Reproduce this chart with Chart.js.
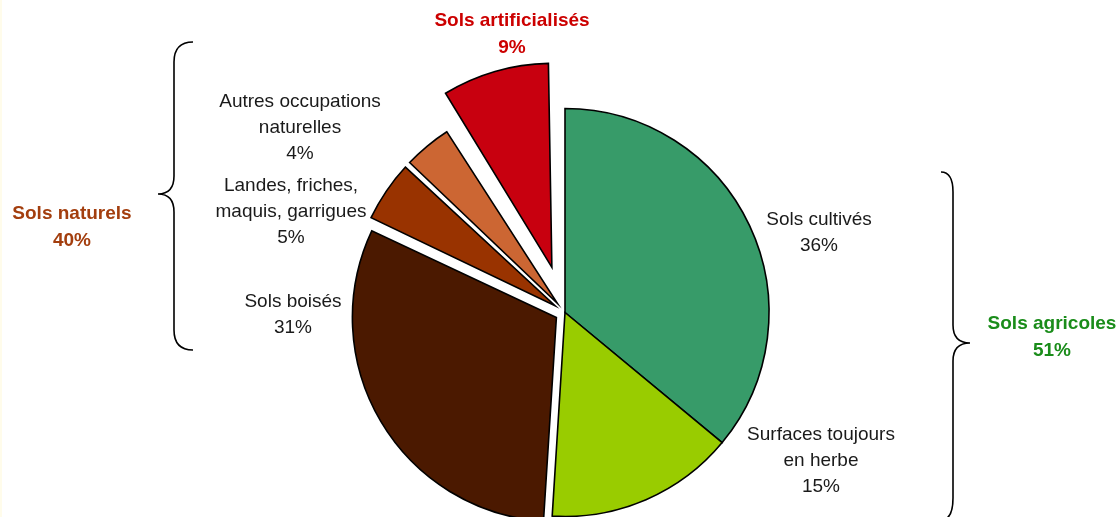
<!DOCTYPE html>
<html>
<head>
<meta charset="utf-8">
<script src="https://cdn.jsdelivr.net/npm/chart.js@4/dist/chart.umd.min.js"></script>
<style>
  html, body { margin: 0; padding: 0; background: #ffffff; }
  canvas { display: block; }
</style>
</head>
<body>
<canvas id="c" width="1120" height="517"></canvas>
<script>
// ---- Data ----
const categories = [
  "Sols cultivés",
  "Surfaces toujours en herbe",
  "Sols boisés",
  "Landes, friches, maquis, garrigues",
  "Autres occupations naturelles",
  "Sols artificialisés"
];
const shares = [36, 15, 31, 5, 4, 9];
const sliceLabelLines = [
  ["Sols cultivés", "36%"],
  ["Surfaces toujours", "en herbe", "15%"],
  ["Sols boisés", "31%"],
  ["Landes, friches,", "maquis, garrigues", "5%"],
  ["Autres occupations", "naturelles", "4%"],
  []
];
const groupNames = ["Sols artificialisés", "Sols naturels", "Sols agricoles"];
const groupShares = ["9%", "40%", "51%"];

// ---- Styles / layout (not data) ----
const sliceColors = ["#379B69", "#99CC00", "#4B1900", "#993300", "#CC6633", "#C8000F"];
const explodePx = [0, 0, 10, 12, 12, 47];
const groupColors = ["#CC0000", "#A33E0E", "#1A8C1A"];
const R = 204;
const sliceLabelPos = [[819, 220], [821, 435], [293, 302], [291, 186], [300, 102], [0, 0]];
const groupLabelPos = [[512, 21], [72, 214], [1052, 324]];
const lineGap = 26;

const fixRadius = {
  id: 'fixRadius',
  beforeDatasetsDraw(chart) {
    const meta = chart.getDatasetMeta(0);
    meta.data.forEach((arc, i) => {
      const circ = arc.endAngle - arc.startAngle;
      const fix = 1 - Math.sin(Math.min(Math.PI, circ));
      arc.outerRadius = R - explodePx[i] * fix;
    });
  }
};

const annotations = {
  id: 'annotations',
  beforeDraw(chart) {
    const ctx = chart.ctx;
    ctx.save();
    ctx.fillStyle = '#ffffff';
    ctx.fillRect(0, 0, chart.width, chart.height);
    ctx.fillStyle = '#FFFCEB';
    ctx.fillRect(0, 0, 2, chart.height);
    ctx.restore();
  },
  afterDraw(chart) {
    const ctx = chart.ctx;
    ctx.save();
    ctx.textAlign = 'center';
    ctx.textBaseline = 'middle';
    ctx.font = '19px "Liberation Sans", Arial, sans-serif';
    ctx.fillStyle = '#1a1a1a';
    sliceLabelLines.forEach((lines, i) => {
      const [x, y] = sliceLabelPos[i];
      lines.forEach((t, k) => ctx.fillText(t, x, y + k * lineGap));
    });
    ctx.font = 'bold 19px "Liberation Sans", Arial, sans-serif';
    groupNames.forEach((name, i) => {
      const [x, y] = groupLabelPos[i];
      ctx.fillStyle = groupColors[i];
      ctx.fillText(name, x, y);
      ctx.fillText(groupShares[i], x, y + lineGap + 1);
    });
    // braces
    ctx.strokeStyle = '#000';
    ctx.lineWidth = 1.6;
    ctx.beginPath();
    ctx.moveTo(193, 42);
    ctx.quadraticCurveTo(174, 42, 174, 62);
    ctx.lineTo(174, 176);
    ctx.quadraticCurveTo(174, 194, 158, 194);
    ctx.quadraticCurveTo(174, 194, 174, 212);
    ctx.lineTo(174, 330);
    ctx.quadraticCurveTo(174, 350, 193, 350);
    ctx.stroke();
    ctx.beginPath();
    ctx.moveTo(941, 172);
    ctx.quadraticCurveTo(953, 172, 953, 192);
    ctx.lineTo(953, 325);
    ctx.quadraticCurveTo(953, 343, 970, 343);
    ctx.quadraticCurveTo(953, 343, 953, 361);
    ctx.lineTo(953, 498);
    ctx.quadraticCurveTo(953, 520, 941, 520);
    ctx.stroke();
    ctx.restore();
  }
};

new Chart(document.getElementById('c'), {
  type: 'pie',
  data: {
    labels: categories,
    datasets: [{
      data: shares,
      backgroundColor: sliceColors,
      borderColor: '#000000',
      borderWidth: 1.6,
      borderJoinStyle: 'miter',
      offset: explodePx.map(v => v * 4),
      clip: false
    }]
  },
  options: {
    responsive: false,
    animation: false,
    radius: R,
    layout: { padding: { left: 10, right: 0, top: 108, bottom: 0 } },
    plugins: { legend: { display: false }, tooltip: { enabled: false } },
    events: []
  },
  plugins: [fixRadius, annotations]
});
</script>
</body>
</html>
